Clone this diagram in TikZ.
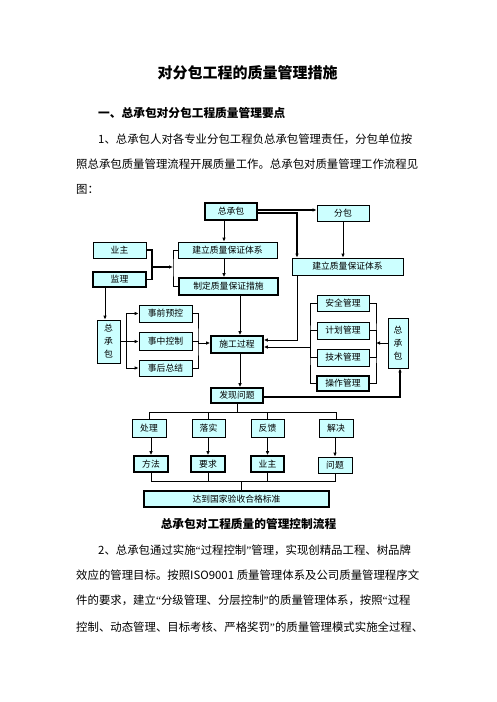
\documentclass[tikz,border=0pt]{standalone}
\usepackage{fontspec}
\setmainfont{Noto Sans CJK SC}
\newfontfamily\myqf{Liberation Serif}
\newcommand\myqo{{\myqf “}}
\newcommand\myqc{{\myqf ”}}
\usetikzlibrary{arrows.meta}
\definecolor{boxc}{RGB}{204,255,255}
\XeTeXinterchartokenstate=1
\newcommand\mystr{\hskip0pt plus 1pt\relax}
\XeTeXinterchartoks 1 1 = {\mystr}
\XeTeXinterchartoks 0 1 = {\mystr}
\XeTeXinterchartoks 1 0 = {\mystr}
\XeTeXinterchartoks 1 2 = {\mystr}
\XeTeXinterchartoks 1 3 = {\mystr}
\XeTeXinterchartoks 2 1 = {\mystr}
\XeTeXinterchartoks 3 1 = {\mystr}
\XeTeXinterchartoks 3 3 = {\mystr}
\XeTeXinterchartoks 0 3 = {\mystr}
\XeTeXinterchartoks 3 0 = {\mystr}
\tikzset{
  box/.style={draw=black, fill=boxc, line width=0.8pt, inner sep=0pt, align=center, font=\fontsize{8.8}{10}\selectfont},
  thickbox/.style={box, line width=1.7pt},
  ln/.style={line width=0.9pt},
  arr/.style={ln, -{Latex[length=4pt,width=3.6pt]}},
  body/.style={anchor=west, inner sep=0pt, font=\fontsize{11.4}{12}\selectfont},
  hd/.style={inner sep=0pt, font=\fontsize{11.7}{12}\selectfont\bfseries},
}
\begin{document}
\begin{tikzpicture}[x=1pt,y=-1pt]
\useasboundingbox (0,0) rectangle (496,702);
\fill[white] (0,0) rectangle (496,702);
% texts
\node[inner sep=0pt, font=\fontsize{15}{16}\selectfont\bfseries] (title) at (247.5,73) {对分包工程的质量管理措施};
\node[hd, anchor=west] (h1) at (98,113) {一、总承包对分包工程质量管理要点};
\node[body] (p1) at (98,139) {\makebox[321pt][s]{1、总承包人对各专业分包工程负总承包管理责任，分包单位按}};
\node[body] (p2) at (76,164) {\makebox[343pt][s]{照总承包质量管理流程开展质量工作。总承包对质量管理工作流程见}};
\node[body] (p3) at (76,189) {图：};
\node[hd] (cap) at (248.5,524) {总承包对工程质量的管理控制流程};
\node[body] (q1) at (98,550) {\makebox[321pt][s]{2、总承包通过实施\myqo 过程控制\myqc 管理，实现创精品工程、树品牌}};
\node[body] (q2) at (76,575) {\makebox[343pt][s]{效应的管理目标。按照ISO9001\hskip2pt plus 1pt 质量管理体系及公司质量管理程序文}};
\node[body] (q3) at (76,600) {\makebox[343pt][s]{件的要求，建立\myqo 分级管理、分层控制\myqc 的质量管理体系，按照\myqo 过程}};
\node[body] (q4) at (76,627) {\makebox[343pt][s]{控制、动态管理、目标考核、严格奖罚\myqc 的质量管理模式实施全过程、}};
% boxes
\node[thickbox, minimum width=52pt, minimum height=17pt] (zcb) at (231,211.5) {总承包};
\node[box, minimum width=52pt, minimum height=16pt] (fb) at (343,213) {分包};
\node[box, minimum width=53pt, minimum height=16pt] (yz) at (119.5,250) {业主};
\node[thickbox, minimum width=53pt, minimum height=15pt] (jl) at (119.5,279.5) {监理};
\node[box, minimum width=99pt, minimum height=16pt] (jlL) at (227.5,250) {建立质量保证体系};
\node[thickbox, minimum width=99pt, minimum height=17pt] (zd) at (228.5,286.5) {制定质量保证措施};
\node[box, minimum width=111pt, minimum height=17pt] (jlR) at (347.5,266.5) {建立质量保证体系};
\node[box, minimum width=23pt, minimum height=43pt] (zcbL) at (108.5,341.5) {总\\[3pt]承\\[3pt]包};
\node[box, minimum width=53pt, minimum height=17pt] (sq) at (165.5,313.5) {事前预控};
\node[box, minimum width=53pt, minimum height=18pt] (sz) at (165.5,341) {事中控制};
\node[box, minimum width=53pt, minimum height=16pt] (sh) at (165.5,368) {事后总结};
\node[thickbox, minimum width=52pt, minimum height=17pt] (sg) at (237,344.5) {施工过程};
\node[box, minimum width=52pt, minimum height=16pt] (aq) at (343,303) {安全管理};
\node[box, minimum width=52pt, minimum height=17pt] (jh) at (343,330.5) {计划管理};
\node[box, minimum width=52pt, minimum height=17pt] (js) at (343,357.5) {技术管理};
\node[thickbox, minimum width=52pt, minimum height=15pt] (cz) at (343,383.5) {操作管理};
\node[box, minimum width=20pt, minimum height=50pt] (zcbR) at (398,343) {总\\[3pt]承\\[3pt]包};
\node[thickbox, minimum width=52pt, minimum height=15pt] (fx) at (237,395.5) {发现问题};
\node[box, minimum width=34pt, minimum height=18pt] (cl) at (149,428) {处理};
\node[box, minimum width=33pt, minimum height=18pt] (ls) at (208.5,428) {落实};
\node[box, minimum width=33pt, minimum height=18pt] (fk) at (267.5,428) {反馈};
\node[box, minimum width=34pt, minimum height=18pt] (jj) at (336,428) {解决};
\node[thickbox, minimum width=34pt, minimum height=16pt] (ff) at (151,464) {方法};
\node[thickbox, minimum width=34pt, minimum height=16pt] (yq) at (208,464) {要求};
\node[thickbox, minimum width=33pt, minimum height=16pt] (yz2) at (267.5,464) {业主};
\node[box, minimum width=34pt, minimum height=16pt] (wt) at (335,465) {问题};
\node[thickbox, minimum width=185pt, minimum height=16pt] (dd) at (236.5,499) {达到国家验收合格标准};
% connectors
\coordinate (c1) at ([xshift=-7pt]zcb.south);
\draw[arr] (c1) -- (c1 |- jlL.north);
\coordinate (c2) at ([xshift=-3.5pt]jlL.south);
\draw[arr] (c2) -- (c2 |- zd.north);
\draw[arr, line width=1.2pt] ([yshift=1.5pt]zcb.east) -- ([yshift=1.5pt]zcb.east -| fb.west);
\coordinate (c8) at ([xshift=-50.5pt]jlR.north);
\draw[arr, line width=1.2pt] ([yshift=-1.5pt]zcb.east) -| (c8);
\draw[arr] (fb.south) -- (fb.south |- jlR.north);
\coordinate (b1) at (152,267);
\coordinate (b2) at (173,267);
\draw[ln, line width=1.3pt] (yz.east) -| (b1) |- (jl.east);
\draw[arr, line width=1.3pt] (b1) -- (b2);
\draw[ln] (jlL.west) -| (b2) |- (zd.west);
\coordinate (c3) at ([xshift=-14.5pt]jl.south);
\draw[arr] (c3) -- (c3 |- zcbL.north);
\coordinate (lb) at (126,341.5);
\draw[ln] (zcbL.east) -- (lb);
\draw[arr] (lb) |- (sq.west);
\draw[arr] (lb) -- (lb -| sz.west);
\draw[arr] (lb) |- (sh.west);
\coordinate (rb) at (198,343);
\draw[ln] (sq.east) -| (rb) |- (sh.east);
\draw[ln] (sz.east) -| (rb);
\draw[arr] (rb) -- (rb -| sg.west);
\coordinate (c4) at ([xshift=11.5pt]zd.south);
\draw[arr] (c4) -- (c4 |- sg.north);
\coordinate (c5) at ([xshift=-50.5pt]jlR.south);
\draw[arr] (c5) |- ([yshift=4.5pt]sg.east);
\coordinate (mb) at (310,347);
\draw[ln] (aq.west) -| (mb) |- (cz.west);
\draw[ln] (jh.west) -| (mb);
\draw[ln] (js.west) -| (mb);
\draw[arr] (mb) -- (mb -| sg.east);
\coordinate (mr) at (376,343);
\draw[ln] (aq.east) -| (mr) |- (cz.east);
\draw[ln] (jh.east) -| (mr);
\draw[ln] (js.east) -| (mr);
\draw[arr] (zcbR.west) -- (mr);
\coordinate (c6) at ([xshift=3pt]sg.south);
\draw[arr] (c6) -- (c6 |- fx.north);
\coordinate (c7) at ([xshift=2pt]zcbR.south);
\draw[arr, line width=1.5pt] ([yshift=-1.5pt]fx.east) -| (c7);
\coordinate (t1) at (238,412);
\draw[ln] (fx.south) -- (fx.south |- t1);
\draw[ln] (cl.north) -- (cl.north |- t1) -- (jj.north |- t1) -- (jj.north);
\draw[ln] (ls.north) -- (ls.north |- t1);
\draw[ln] (fk.north) -- (fk.north |- t1);
\draw[arr] (ff.north |- cl.south) -- (ff.north);
\draw[arr] (yq.north |- ls.south) -- (yq.north);
\draw[arr] (yz2.north |- fk.south) -- (yz2.north);
\draw[arr] (wt.north |- jj.south) -- (wt.north);
\coordinate (t2) at (241,481);
\draw[ln] (ff.south) -- (ff.south |- t2) -- (wt.south |- t2) -- (wt.south);
\draw[ln] (yq.south) -- (yq.south |- t2);
\draw[ln] (yz2.south) -- (yz2.south |- t2);
\draw[ln] (t2) -- (t2 |- dd.north);
\end{tikzpicture}
\end{document}
